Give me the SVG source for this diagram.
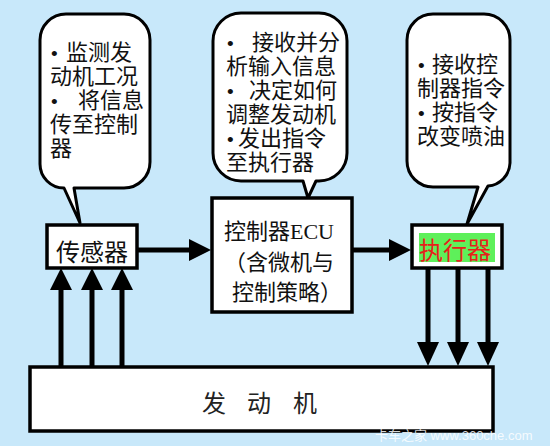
<svg xmlns="http://www.w3.org/2000/svg" width="550" height="446" viewBox="0 0 550 446">
<style>
.bubble{fill:#fff;stroke:#000;stroke-width:3;stroke-linejoin:round}
.box{fill:#fff;stroke:#000;stroke-width:3.5}
.t{font-family:"Liberation Sans","Noto Sans CJK SC",sans-serif;font-size:22px;fill:#111}
.b{font-family:"Liberation Sans",sans-serif;font-size:19px;fill:#111}
.big{font-size:24px}
.ecu{font-family:"Liberation Serif","Noto Sans CJK SC",serif;font-size:22px;fill:#111}
.ln{stroke:#000;stroke-width:5;fill:none}
.ah{fill:#000}
</style>
<rect width="550" height="446" fill="#c8e8fa"/>

<g id="bubble-sensor">
<path class="bubble" d="M64 188 L80 223 L74 188 L124 188 A26 26 0 0 0 150 162 L150 40 A26 26 0 0 0 124 14 L66 14 A26 26 0 0 0 40 40 L40 164 A24 24 0 0 0 64 188 Z"/>
<text class="b" x="51" y="60">•</text><text class="t" x="66" y="60">监测发</text>
<text class="t" x="50" y="84">动机工况</text>
<text class="b" x="51" y="108">•</text><text class="t" x="78" y="108">将信息</text>
<text class="t" x="50" y="132">传至控制</text>
<text class="t" x="50" y="156">器</text>
</g>

<g id="bubble-ecu">
<path class="bubble" d="M303 181 L308 198 L316 181 L319 181 A28 28 0 0 0 347 153 L347 41 A28 28 0 0 0 319 13 L241 13 A28 28 0 0 0 213 41 L213 153 A28 28 0 0 0 241 181 Z"/>
<text class="b" x="227" y="50">•</text><text class="t" x="252" y="50">接收并分</text>
<text class="t" x="226" y="74">析输入信息</text>
<text class="b" x="227" y="98">•</text><text class="t" x="249" y="98">决定如何</text>
<text class="t" x="226" y="122">调整发动机</text>
<text class="b" x="227" y="146">•</text><text class="t" x="238" y="146">发出指令</text>
<text class="t" x="226" y="170">至执行器</text>
</g>

<g id="bubble-actuator">
<path class="bubble" d="M478 187 L467 224 L488 186 A24 24 0 0 0 510 163 L510 40 A26 26 0 0 0 484 14 L433 14 A26 26 0 0 0 407 40 L407 161 A26 26 0 0 0 433 187 Z"/>
<text class="b" x="418" y="72">•</text><text class="t" x="432" y="72">接收控</text>
<text class="t" x="417" y="96">制器指令</text>
<text class="b" x="418" y="120">•</text><text class="t" x="432" y="120">按指令</text>
<text class="t" x="417" y="144">改变喷油</text>
</g>

<g id="sensor">
<rect class="box" x="47" y="225" width="90" height="43"/>
<text class="t big" x="56" y="261">传感器</text>
</g>

<g id="ecu">
<rect class="box" x="212" y="198" width="140" height="114"/>
<text class="ecu" x="224" y="239">控制器ECU</text>
<text class="ecu" x="224" y="270">（含微机与</text>
<text class="ecu" x="232" y="300">控制策略）</text>
</g>

<g id="actuator">
<rect class="box" x="412" y="225" width="90" height="43"/>
<rect x="419" y="233" width="76" height="29" fill="#5ef05a"/>
<text class="t big" x="419" y="259" style="fill:#e8201a">执行器</text>
</g>

<g id="engine">
<rect class="box" x="30" y="367" width="463" height="64"/>
<text class="t big" x="202" y="412" style="fill:#222">发</text>
<text class="t big" x="247" y="412" style="fill:#222">动</text>
<text class="t big" x="293" y="412" style="fill:#222">机</text>
</g>

<g id="connectors">
<line class="ln" x1="61" y1="366" x2="61" y2="285"/>
<line class="ln" x1="92" y1="366" x2="92" y2="285"/>
<line class="ln" x1="122" y1="366" x2="122" y2="285"/>
<polygon class="ah" points="61,268 50,290 72,290"/>
<polygon class="ah" points="92,268 81,290 103,290"/>
<polygon class="ah" points="122,268 111,290 133,290"/>
<line class="ln" x1="138" y1="250" x2="195" y2="250"/>
<polygon class="ah" points="211,250 189,239 189,261"/>
<line class="ln" x1="353" y1="250" x2="395" y2="250"/>
<polygon class="ah" points="411,250 389,239 389,261"/>
<line class="ln" x1="428" y1="269" x2="428" y2="346"/>
<line class="ln" x1="458" y1="269" x2="458" y2="346"/>
<line class="ln" x1="488" y1="269" x2="488" y2="346"/>
<polygon class="ah" points="428,366 417,342 439,342"/>
<polygon class="ah" points="458,366 447,342 469,342"/>
<polygon class="ah" points="488,366 477,342 499,342"/>
</g>

<text x="375" y="440" style="font-family:'Liberation Sans','Noto Sans CJK SC',sans-serif;font-size:13px;fill:#fff;fill-opacity:0.85">卡车之家 www.360che.com</text>
</svg>
